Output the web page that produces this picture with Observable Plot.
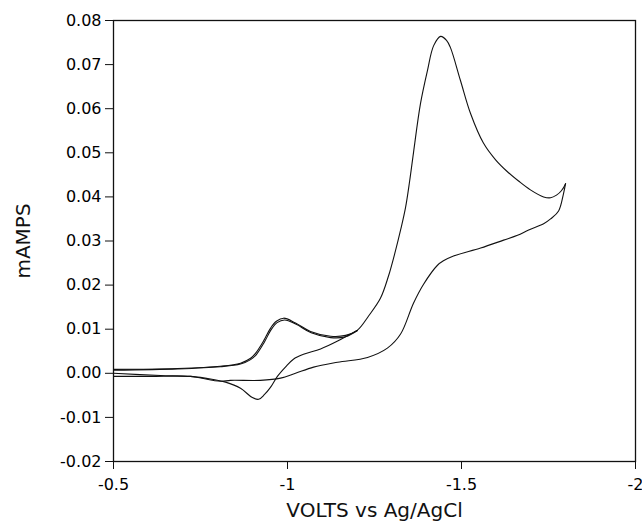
<!DOCTYPE html>
<html>
<head>
<meta charset="utf-8">
<script src="https://cdn.jsdelivr.net/npm/d3@7"></script>
<script src="https://cdn.jsdelivr.net/npm/@observablehq/plot@0.6"></script>
<style>
  html, body { margin: 0; padding: 0; background: #fff; }
  #chart svg { display: block; }
</style>
</head>
<body>
<div id="chart"></div>
<script>
// Axis ticks
const xTicks = [-0.5, -1, -1.5, -2];
const yTicks = [-0.02, -0.01, 0.00, 0.01, 0.02, 0.03, 0.04, 0.05, 0.06, 0.07, 0.08];
const xLabel = "VOLTS vs Ag/AgCl";
const yLabel = "mAMPS";

// Wide scan: forward sweep (-0.5 V -> -1.8 V)
const wideFwdV = [-0.5, -0.684, -0.807, -0.865, -0.894, -0.908, -0.931, -0.951, -0.968, -0.989, -1.023, -1.066, -1.124, -1.167, -1.201, -1.233, -1.267, -1.290, -1.310, -1.325, -1.339, -1.351, -1.362, -1.382, -1.402, -1.420, -1.440, -1.457, -1.468, -1.497, -1.526, -1.563, -1.598, -1.632, -1.664, -1.698, -1.736, -1.756, -1.773, -1.787, -1.799];
const wideFwdI = [0.0009, 0.0011, 0.0016, 0.0023, 0.0034, 0.0045, 0.0073, 0.0102, 0.0118, 0.0125, 0.0114, 0.0095, 0.0084, 0.0086, 0.0098, 0.0130, 0.0170, 0.0220, 0.0277, 0.0325, 0.0375, 0.0436, 0.0500, 0.0611, 0.0686, 0.0743, 0.0764, 0.0755, 0.0739, 0.0664, 0.0589, 0.0522, 0.0484, 0.0457, 0.0436, 0.0416, 0.0400, 0.0398, 0.0404, 0.0414, 0.0430];

// Wide scan: reverse sweep (-1.8 V -> -0.5 V)
const wideRevV = [-1.799, -1.793, -1.779, -1.756, -1.736, -1.693, -1.661, -1.621, -1.555, -1.477, -1.448, -1.431, -1.391, -1.362, -1.325, -1.287, -1.230, -1.144, -1.075, -1.023, -0.980, -0.922, -0.836, -0.807, -0.721, -0.635, -0.5];
const wideRevI = [0.0430, 0.0407, 0.0368, 0.0350, 0.0339, 0.0325, 0.0313, 0.0302, 0.0284, 0.0266, 0.0255, 0.0245, 0.0202, 0.0159, 0.0089, 0.0057, 0.0036, 0.0025, 0.0014, 0.0000, -0.0011, -0.0016, -0.0016, -0.0018, -0.0007, -0.0005, 0.0000];

// Narrow scan: forward sweep (-0.5 V -> -1.2 V)
const narrowFwdV = [-0.5, -0.684, -0.807, -0.865, -0.894, -0.910, -0.933, -0.953, -0.970, -0.992, -1.025, -1.068, -1.124, -1.167, -1.201];
const narrowFwdI = [0.0007, 0.0010, 0.0015, 0.0021, 0.0031, 0.0042, 0.0070, 0.0099, 0.0115, 0.0121, 0.0111, 0.0092, 0.0081, 0.0083, 0.0097];

// Narrow scan: reverse sweep (-1.2 V -> -0.5 V)
const narrowRevV = [-1.201, -1.181, -1.144, -1.095, -1.046, -1.017, -0.994, -0.971, -0.951, -0.934, -0.917, -0.899, -0.865, -0.822, -0.787, -0.721, -0.606, -0.5];
const narrowRevI = [0.0097, 0.0089, 0.0073, 0.0055, 0.0043, 0.0032, 0.0014, -0.0007, -0.0032, -0.0048, -0.0059, -0.0055, -0.0034, -0.0020, -0.0014, -0.0007, -0.0007, -0.0007];

const toRows = (vs, is, scan) => vs.map((v, k) => ({V: v, I: is[k], scan}));
const segments = [
  toRows(wideFwdV, wideFwdI, "wideFwd"),
  toRows(wideRevV, wideRevI, "wideRev"),
  toRows(narrowFwdV, narrowFwdI, "narrowFwd"),
  toRows(narrowRevV, narrowRevI, "narrowRev")
];

const font = "DejaVu Sans, Liberation Sans, sans-serif";

const chart = Plot.plot({
  width: 642,
  height: 521,
  marginLeft: 113,
  marginRight: 7,
  marginTop: 20,
  marginBottom: 60,
  style: {fontFamily: font, fontSize: "16px", color: "#000", background: "#fff"},
  x: {domain: [-0.5, -2], ticks: xTicks},
  y: {domain: [-0.02, 0.08], ticks: yTicks},
  marks: [
    Plot.frame({stroke: "#111", strokeWidth: 1.3}),
    Plot.axisX({ticks: xTicks, tickFormat: d => String(d), tickSize: 8, tickPadding: 9, label: null, fontSize: 16, stroke: "#111"}),
    Plot.axisY({ticks: yTicks, tickFormat: d => d.toFixed(2), tickSize: 8, tickPadding: 4, label: null, fontSize: 16, stroke: "#111"}),
    ...segments.map(seg => Plot.line(seg, {x: "V", y: "I", stroke: "#111", strokeWidth: 1.1, curve: "catmull-rom"})),
    Plot.text([xLabel], {frameAnchor: "bottom", lineAnchor: "middle", dy: 49, fontSize: 20, fill: "#111"}),
    Plot.text([yLabel], {frameAnchor: "left", textAnchor: "middle", lineAnchor: "middle", dx: -90, rotate: -90, fontSize: 20, fill: "#111"})
  ]
});
document.getElementById("chart").appendChild(chart);
</script>
</body>
</html>
